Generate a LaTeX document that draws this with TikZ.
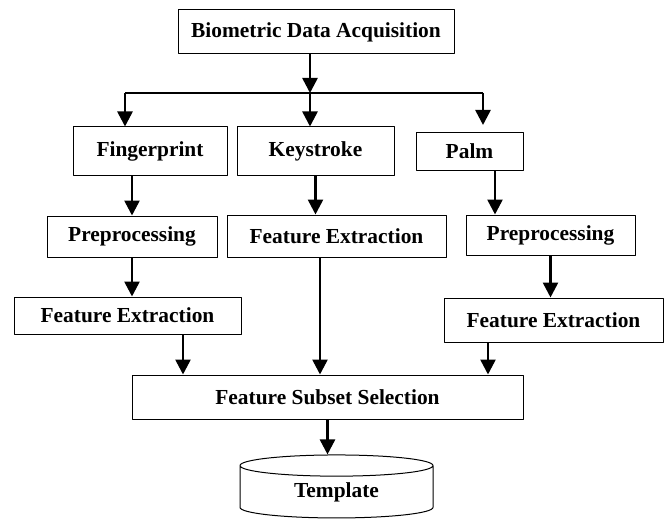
\documentclass[tikz,border=0pt]{standalone}
\usepackage{fontspec}
\setmainfont{Liberation Serif}
\usetikzlibrary{arrows.meta,shapes.geometric}
\begin{document}
\begin{tikzpicture}[x=0.5pt, y=-0.5pt, line join=round, font=\bfseries\fontsize{10.7}{12}\selectfont, >={Triangle[length=7.5pt,width=7.5pt]}]
	\tikzset{box/.style={draw, line width=0.5pt, inner sep=0pt}, flow/.style={->, line width=1.3pt}}
	\useasboundingbox (0,0) rectangle (669,524);
	% boxes
	\node[box, minimum width=138pt, minimum height=22pt] (acq) at (316,32) {Biometric Data Acquisition};
	\node[box, minimum width=77pt, minimum height=24pt] (finger) at (150,151) {Fingerprint};
	\node[box, minimum width=78.5pt, minimum height=24pt] (key) at (315.5,151) {Keystroke};
	\node[box, minimum width=53.5pt, minimum height=18.5pt] (palm) at (469.5,151.5) {Palm};
	\node[box, minimum width=85pt, minimum height=20.5pt] (prepL) at (132,236.5) {Preprocessing};
	\node[box, minimum width=109.5pt, minimum height=21pt] (featK) at (336.5,236) {Feature Extraction};
	\node[box, minimum width=84.5pt, minimum height=20pt] (prepR) at (550.5,235) {Preprocessing};
	\node[box, minimum width=113.5pt, minimum height=18.5pt] (featL) at (127.5,315.5) {Feature Extraction};
	\node[box, minimum width=109.5pt, minimum height=22pt] (featR) at (553.5,320) {Feature Extraction};
	\node[box, minimum width=195.5pt, minimum height=22pt] (fss) at (327.5,397) {Feature Subset Selection};
	\node[box, shape=cylinder, shape border rotate=90, aspect=0.25, minimum width=96.5pt, minimum height=31.5pt] (template) at (336.5,492) {Template};
	% split
	\coordinate (split) at (310,93);
	\coordinate (splitL) at (125,93);
	\coordinate (splitR) at (483,93);
	\draw[flow] (acq.south -| split) -- (split);
	\draw[line width=1.3pt] (splitL) -- (splitR);
	\draw[flow] (splitL) -- (splitL |- finger.north);
	\draw[flow] (split) -- (split |- key.north);
	\draw[flow] (splitR) -- ++(0,32);
	% branches
	\path ([xshift=12.75pt]palm.south) coordinate (palmOut);
	\path ([xshift=-8.25pt]featK.south) coordinate (keyOut);
	\path ([xshift=27.75pt]featL.south) coordinate (fingerOut);
	\path ([xshift=-32.75pt]featR.south) coordinate (palmFeatOut);
	\draw[flow] (finger.south -| prepL) -- (prepL.north);
	\draw[flow] (prepL.south) -- (prepL.south |- featL.north);
	\draw[flow] (key.south) -- (key.south |- featK.north);
	\draw[flow] (palmOut) -- (palmOut |- prepR.north);
	\draw[flow] (prepR.south) -- (prepR.south |- featR.north);
	\draw[flow] (fingerOut) -- (fingerOut |- fss.north);
	\draw[flow] (keyOut) -- (keyOut |- fss.north);
	\draw[flow] (palmFeatOut) -- (palmFeatOut |- fss.north);
	\draw[flow] (fss.south) -- (fss.south |- template.north);
\end{tikzpicture}
\end{document}
